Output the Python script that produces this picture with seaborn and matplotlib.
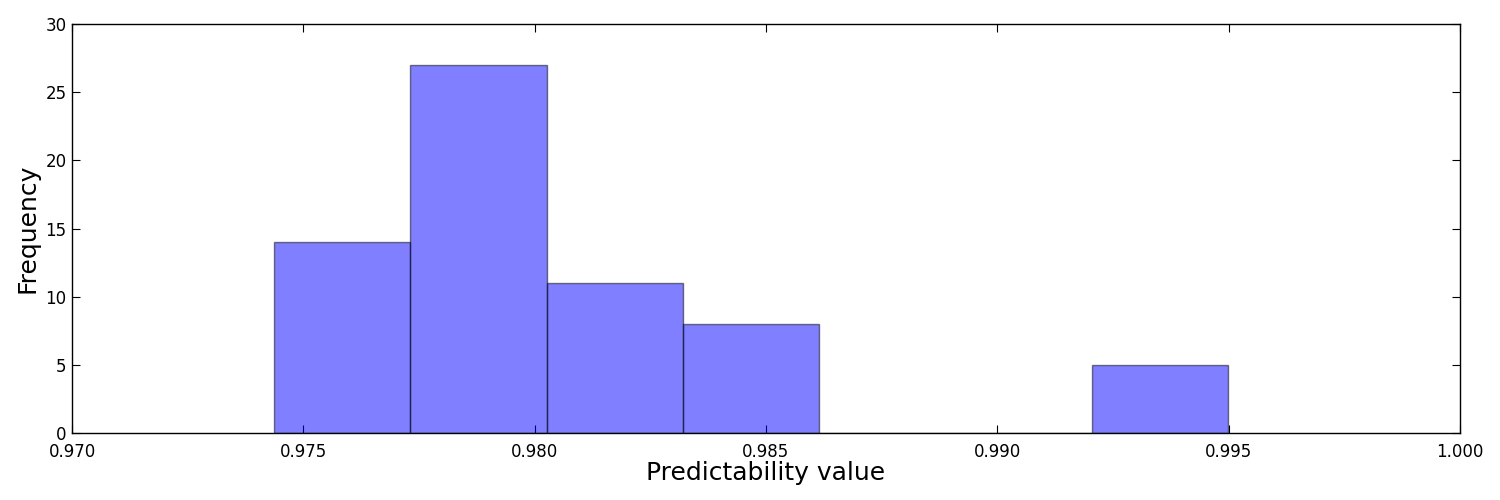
import numpy as np
import pandas as pd
import matplotlib
matplotlib.use("Agg")
import matplotlib.pyplot as plt
import seaborn as sns

# Histogram: 7 equal bins
bin_lo = 0.97437
bin_hi = 0.99499
n_bins = 7
counts = [14, 27, 11, 8, 0, 0, 5]

edges = np.linspace(bin_lo, bin_hi, n_bins + 1)
centers = (edges[:-1] + edges[1:]) / 2
df = pd.DataFrame({"value": centers, "count": counts})

sns.set_style("ticks")
plt.rcParams['font.family'] = ['DejaVu Sans']
plt.rcParams['text.color'] = 'black'
plt.rcParams['axes.labelcolor'] = 'black'
plt.rcParams['xtick.color'] = 'black'
plt.rcParams['ytick.color'] = 'black'

fig = plt.figure(figsize=(15, 5), dpi=100)
ax = fig.add_axes([0.048, 0.134, 0.9253, 0.818])

sns.histplot(data=df, x="value", weights="count", bins=list(edges), ax=ax,
             color="blue", linewidth=1.0)
for p in ax.patches:
    p.set_alpha(None)
    p.set_facecolor((0, 0, 1, 0.5))
    p.set_edgecolor((0, 0, 0, 0.5))

ax.set_xlim(0.970, 1.000)
ax.set_ylim(0, 30)
xt = np.arange(0.970, 1.0001, 0.005)
ax.set_xticks(xt)
ax.set_xticklabels([f"{v:.3f}" for v in xt])
ax.set_yticks(range(0, 31, 5))
ax.tick_params(direction="in", top=True, right=True, labelsize=12, length=6,
               width=0.8, colors="black")
ax.tick_params(axis="x", pad=7)
ax.tick_params(axis="y", pad=4)
for s in ax.spines.values():
    s.set_visible(True)
    s.set_linewidth(1.0)
    s.set_color("black")

ax.set_xlabel("Predictability value", fontsize=18, color="black", labelpad=0)
ax.set_ylabel("Frequency", fontsize=18, color="black")

fig.savefig("out.png", dpi=100)
